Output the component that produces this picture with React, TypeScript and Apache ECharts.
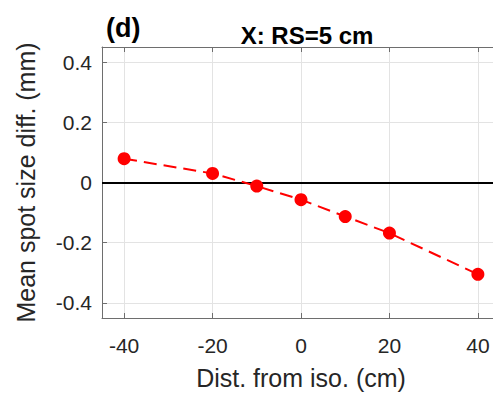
import React, { useEffect, useRef } from "react";
import * as echarts from "echarts";

const distances = [-40, -20, -10, 0, 10, 20, 40];
const meanDiff = [0.079, 0.03, -0.012, -0.057, -0.113, -0.168, -0.305];
const xTicks = [-40, -20, 0, 20, 40];
const yTicks = [-0.4, -0.2, 0, 0.2, 0.4];
const yTickLabels = ["-0.4", "-0.2", "0", "0.2", "0.4"];
const titleText = "X: RS=5 cm";
const panelLabel = "(d)";
const xName = "Dist. from iso. (cm)";
const yName = "Mean spot size diff. (mm)";

const FONT = "Liberation Sans, Arial, Helvetica, sans-serif";
const AXIS_COLOR = "#6e6e6e";
const TEXT_COLOR = "#262626";
const GRID_COLOR = "#e3e3e3";

export default function App() {
  const ref = useRef<HTMLDivElement>(null);
  useEffect(() => {
    if (!ref.current) return;
    const chart = echarts.init(ref.current, null, { renderer: "svg" });
    const yLabel = (v: number) => {
      const i = yTicks.findIndex((t) => Math.abs(t - v) < 1e-9);
      return i >= 0 ? yTickLabels[i] : "";
    };
    chart.setOption({
      animation: false,
      backgroundColor: "#ffffff",
      textStyle: { fontFamily: FONT },
      title: [
        {
          text: panelLabel,
          left: 101,
          top: 9,
          textStyle: { fontFamily: FONT, fontWeight: "bold", fontSize: 27, color: "#000" },
        },
        {
          text: titleText,
          left: 302,
          top: 18,
          textAlign: "center",
          textStyle: { fontFamily: FONT, fontWeight: "bold", fontSize: 24, color: "#000" },
        },
      ],
      grid: {
        left: 102,
        right: -7,
        top: 47,
        bottom: 76,
        containLabel: false,
        outerBoundsMode: "none",
      },
      xAxis: [
        {
          type: "value",
          min: -45,
          max: 45,
          position: "bottom",
          name: xName,
          nameLocation: "middle",
          nameGap: 47,
          nameMoveOverlap: false,
          nameTextStyle: { fontFamily: FONT, fontSize: 25, color: TEXT_COLOR },
          axisLine: { show: true, onZero: false, lineStyle: { color: AXIS_COLOR, width: 1 } },
          axisTick: { show: true, inside: true, length: 5, customValues: xTicks, lineStyle: { color: AXIS_COLOR } },
          axisLabel: {
            customValues: xTicks,
            margin: 17,
            fontFamily: FONT,
            fontSize: 21,
            color: TEXT_COLOR,
            formatter: (v: number) => String(v),
          },
          splitLine: { show: true, lineStyle: { color: GRID_COLOR, width: 1 } },
        },
        {
          type: "value",
          min: -45,
          max: 45,
          position: "top",
          axisLine: { show: true, onZero: false, lineStyle: { color: AXIS_COLOR, width: 1 } },
          axisTick: { show: true, inside: true, length: 5, customValues: xTicks, lineStyle: { color: AXIS_COLOR } },
          axisLabel: { show: false },
          splitLine: { show: false },
        },
      ],
      yAxis: {
        type: "value",
        min: -0.45,
        max: 0.45,
        name: yName,
        nameLocation: "middle",
        nameRotate: 90,
        nameGap: 64,
        nameMoveOverlap: false,
        nameTextStyle: { fontFamily: FONT, fontSize: 25, color: TEXT_COLOR },
        axisLine: { show: true, onZero: false, lineStyle: { color: AXIS_COLOR, width: 1 } },
        axisTick: { show: true, inside: true, length: 5, customValues: yTicks, lineStyle: { color: AXIS_COLOR } },
        axisLabel: {
          customValues: yTicks,
          margin: 10,
          fontFamily: FONT,
          fontSize: 21,
          color: TEXT_COLOR,
          formatter: yLabel,
        },
        splitLine: { show: true, lineStyle: { color: GRID_COLOR, width: 1 } },
      },
      series: [
        {
          type: "line",
          xAxisIndex: 0,
          data: distances.map((d, i) => [d, meanDiff[i]]),
          symbol: "circle",
          symbolSize: 13,
          itemStyle: { color: "#ff0000" },
          lineStyle: { color: "#ff0000", width: 2, type: [13, 7] },
          z: 5,
          markLine: {
            silent: true,
            symbol: "none",
            label: { show: false },
            lineStyle: { color: "#000", width: 2, type: "solid" },
            data: [{ yAxis: 0 }],
            z: 3,
          },
        },
      ],
    });
    return () => chart.dispose();
  }, []);
  return (
    <div
      ref={ref}
      style={{ position: "fixed", left: 0, top: 0, width: 493, height: 394 }}
    />
  );
}
